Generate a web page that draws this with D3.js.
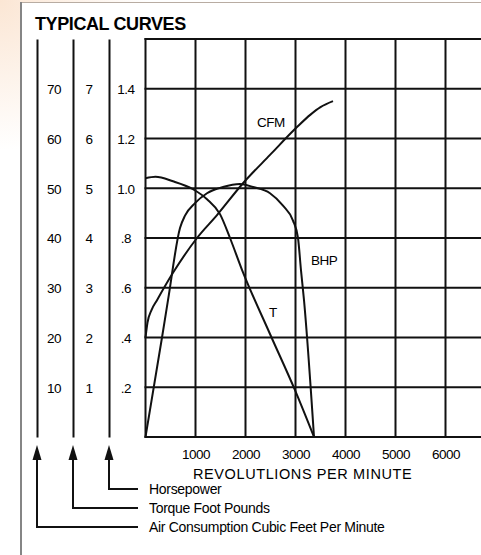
<!DOCTYPE html>
<html><head><meta charset="utf-8">
<script src="https://cdn.jsdelivr.net/npm/d3@7"></script>
<style>
body{margin:0;background:#fff}
svg{display:block}
text{font-family:"Liberation Sans",Arial,Helvetica,sans-serif;fill:#000}
</style>
</head><body>
<svg id="c" width="481" height="555"></svg>
<script>
// ---- data ----
const rpmTicks = [1000, 2000, 3000, 4000, 5000, 6000];
const hpTicks = [0.2, 0.4, 0.6, 0.8, 1.0, 1.2, 1.4];
const hpLabels = [".2", ".4", ".6", ".8", "1.0", "1.2", "1.4"];
const torqueTicks = [1, 2, 3, 4, 5, 6, 7];
const cfmTicks = [10, 20, 30, 40, 50, 60, 70];

const cfmRpm = [0, 40, 120, 230, 550, 1030, 1430, 1950, 2490, 3030, 3300, 3500, 3750];
const cfmVal = [20, 23, 25.5, 27.5, 33, 40, 44.6, 51, 56.7, 62.3, 64.8, 66.3, 67.5];

const tRpm = [0, 200, 550, 950, 1230, 1490, 1690, 1930, 2490, 2990, 3370];
const tVal = [5.2, 5.23, 5.14, 4.98, 4.78, 4.48, 4.0, 3.36, 2.07, 0.94, 0];

const bhpRpm = [0, 330, 450, 690, 790, 990, 1230, 1550, 1890, 2150, 2490, 2750, 2950, 3050, 3110, 3170, 3370];
const bhpVal = [0, 0.40, 0.55, 0.84, 0.89, 0.94, 0.98, 1.005, 1.017, 1.005, 0.98, 0.93, 0.87, 0.80, 0.67, 0.55, 0];

const legendLabels = ["Horsepower", "Torque Foot Pounds", "Air Consumption Cubic Feet Per Minute"];

// ---- setup ----
const svg = d3.select("#c");
const defs = svg.append("defs");
const rg = defs.append("radialGradient").attr("id", "bg")
  .attr("gradientUnits", "userSpaceOnUse").attr("cx", 0).attr("cy", 0).attr("r", 150);
rg.append("stop").attr("offset", "0%").attr("stop-color", "#fbe6d4");
rg.append("stop").attr("offset", "100%").attr("stop-color", "#ffffff");
svg.append("rect").attr("width", 481).attr("height", 555).attr("fill", "url(#bg)");
// frame
svg.append("rect").attr("x", 21).attr("y", 3).attr("width", 470).attr("height", 560).attr("fill", "#fff");
svg.append("line").attr("x1", 21).attr("x2", 481).attr("y1", 2.5).attr("y2", 2.5)
  .attr("stroke", "#b8aca2").attr("stroke-width", 1);
svg.append("line").attr("x1", 21).attr("x2", 21).attr("y1", 2).attr("y2", 555)
  .attr("stroke", "#858585").attr("stroke-width", 2);

const x = d3.scaleLinear().domain([0, 7000]).range([145.5, 495.5]);
const yHp = d3.scaleLinear().domain([0, 1.6]).range([437, 39]);
const yTq = d3.scaleLinear().domain([0, 8]).range([437, 39]);
const yCfm = d3.scaleLinear().domain([0, 80]).range([437, 39]);

// title
svg.append("text").attr("x", 35).attr("y", 30).text("TYPICAL CURVES")
  .style("font-weight", "bold").style("font-size", "18px").style("letter-spacing", "-0.4px");

// grid
const hpGrid = [0, ...hpTicks, 1.6];
const rpmGrid = [0, ...rpmTicks, 7000];
const g = svg.append("g").attr("stroke", "#111").attr("stroke-width", 2);
g.selectAll("line.h").data(hpGrid).join("line").attr("class", "h")
  .attr("x1", x(0) - 1).attr("x2", x(7000)).attr("y1", d => yHp(d)).attr("y2", d => yHp(d));
g.selectAll("line.v").data(rpmGrid).join("line").attr("class", "v")
  .attr("x1", d => x(d)).attr("x2", d => x(d)).attr("y1", yHp(1.6) - 1).attr("y2", yHp(0) + 1);

// x axis labels
const xa = svg.append("g").attr("transform", `translate(0,${yHp(0)})`)
  .call(d3.axisBottom(x).tickValues(rpmTicks).tickSize(0).tickFormat(d3.format("d")));
xa.select(".domain").remove();
xa.attr("font-family", null).attr("font-size", null);
xa.selectAll("text").attr("y", 22).attr("dy", 0).attr("fill", "#000")
  .style("font-size", "13.5px").style("letter-spacing", "-0.5px");
svg.append("text").attr("x", 193).attr("y", 479).text("REVOLUTLIONS PER MINUTE")
  .style("font-size", "14.5px").style("letter-spacing", "0.6px");

// left scales
function leftScale(scale, ticks, fmt, lx, cx) {
  const a = svg.append("g").attr("transform", `translate(${lx},0)`)
    .call(d3.axisRight(scale).tickValues(ticks).tickSizeInner(0).tickSizeOuter(0).tickFormat(fmt));
  a.select(".domain").attr("stroke", "#111").attr("stroke-width", 2);
  a.selectAll("text").attr("x", cx - lx).attr("dy", "0.36em").attr("text-anchor", "middle").attr("fill", "#000")
    .style("font-size", "13.5px").style("letter-spacing", "-0.5px");
  a.attr("font-family", null).attr("font-size", null);
}
leftScale(yCfm, cfmTicks, d3.format("d"), 37, 54);
leftScale(yTq, torqueTicks, d3.format("d"), 73, 89);
leftScale(yHp, hpTicks, (d) => hpLabels[hpTicks.indexOf(d)], 109, 126);

// curves
const mk = (xs, ys) => xs.map((r, i) => [r, ys[i]]);
const line = (ys) => d3.line().x(d => x(d[0])).y(d => ys(d[1])).curve(d3.curveMonotoneX);
const cg = svg.append("g").attr("fill", "none").attr("stroke", "#111").attr("stroke-width", 2)
  .attr("stroke-linejoin", "round");
cg.append("path").attr("d", line(yCfm)(mk(cfmRpm, cfmVal)));
cg.append("path").attr("d", line(yTq)(mk(tRpm, tVal)));
cg.append("path").attr("d", line(yHp)(mk(bhpRpm, bhpVal)));

// curve labels
const lab = (t, r, v) => svg.append("text").attr("x", x(r)).attr("y", yHp(v)).text(t)
  .style("font-size", "13.5px").style("letter-spacing", "-0.5px");
lab("CFM", 2230, 1.246);
lab("BHP", 3310, 0.691);
lab("T", 2470, 0.482);

// legend arrows
const axisX = [109, 73, 37];
const legY = [489, 508, 527];
const lg = svg.append("g");
legendLabels.forEach((t, i) => {
  const ax = axisX[i], ly = legY[i];
  lg.append("path").attr("d", `M${ax},445L${ax + 4.5},460L${ax - 4.5},460Z`).attr("fill", "#111");
  lg.append("path").attr("d", `M${ax},458V${ly}H138`).attr("fill", "none")
    .attr("stroke", "#111").attr("stroke-width", 2);
  lg.append("text").attr("x", 149).attr("y", ly + 5).text(t)
    .style("font-size", "14px").style("letter-spacing", "-0.3px");
});
</script>
</body></html>
